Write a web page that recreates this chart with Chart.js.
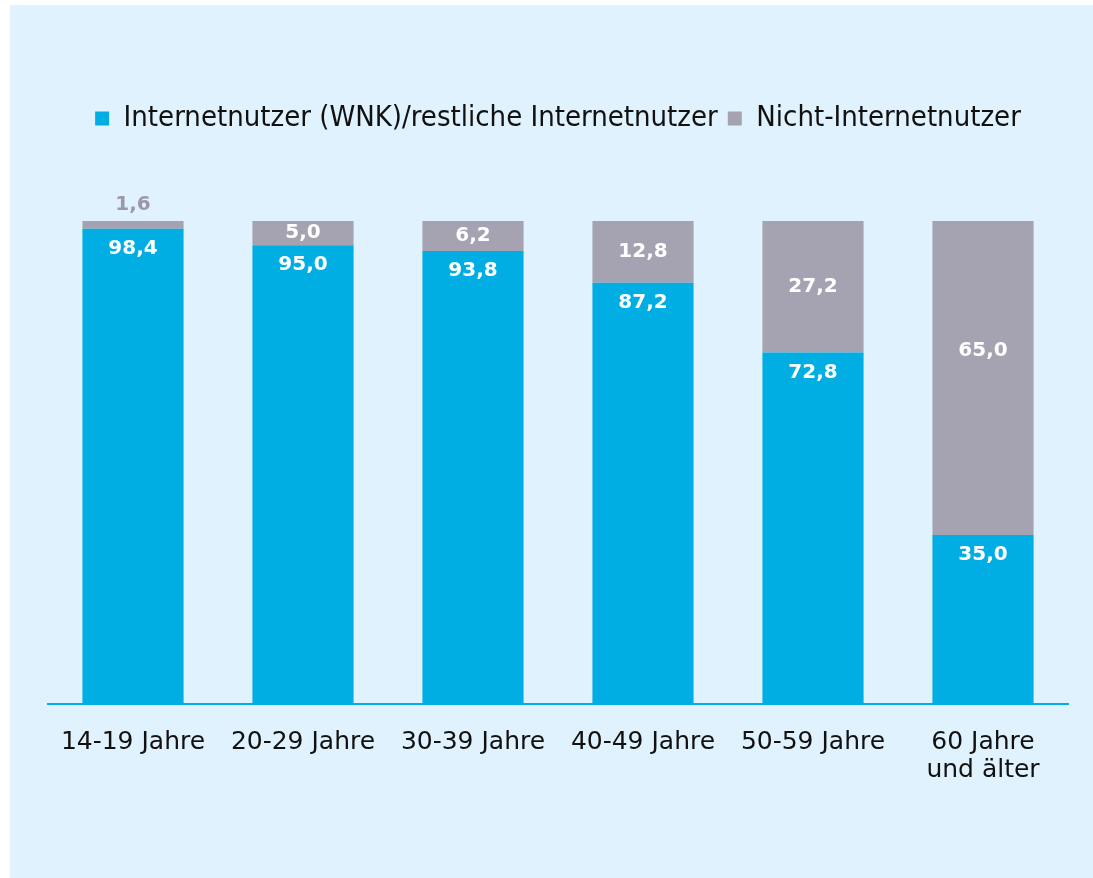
<!DOCTYPE html>
<html>
<head>
<meta charset="utf-8">
<script src="https://cdn.jsdelivr.net/npm/chart.js@4"></script>
<style>
  html, body { margin: 0; padding: 0; background: #ffffff; }
  #panel { position: absolute; left: 10px; top: 5px; width: 1083px; height: 873px; background: #dff2fd; }
</style>
</head>
<body>
<div id="panel"><canvas id="chart" width="1083" height="873"></canvas></div>
<script>
var categories = ['14-19 Jahre', '20-29 Jahre', '30-39 Jahre', '40-49 Jahre', '50-59 Jahre', ['60 Jahre', 'und älter']]
var internetnutzer = [98.4, 95.0, 93.8, 87.2, 72.8, 35.0]
var nichtNutzer = [1.6, 5.0, 6.2, 12.8, 27.2, 65.0]
var seriesNames = ['Internetnutzer (WNK)/restliche Internetnutzer', 'Nicht-Internetnutzer']

var blue = '#00aee4'
var grey = '#a5a3b2'

// extra room under the legend
var legendGap = {
    id: 'legendGap',
    beforeInit: function (chart) {
        var origFit = chart.legend.fit
        chart.legend.fit = function () {
            origFit.bind(chart.legend)()
            this.height += 78
        }
    }
}

function fmt(v) {
    return v.toFixed(1).replace('.', ',')
}

var valueLabels = {
    id: 'valueLabels',
    afterDatasetsDraw: function (chart) {
        var ctx = chart.ctx
        ctx.save()
        ctx.font = 'bold 20px "DejaVu Sans", Verdana, sans-serif'
        ctx.textAlign = 'center'
        ctx.textBaseline = 'middle'
        chart.data.datasets.forEach(function (ds, di) {
            var meta = chart.getDatasetMeta(di)
            meta.data.forEach(function (el, i) {
                var v = ds.data[i]
                var y
                if (di === 0) {
                    ctx.fillStyle = '#ffffff'
                    y = el.y + 20
                } else if (v < 3) {
                    ctx.fillStyle = '#9b99a8'
                    y = el.y - 16
                } else {
                    ctx.fillStyle = '#ffffff'
                    y = Math.min((el.y + el.base) / 2, el.y + 130)
                }
                ctx.fillText(fmt(v), el.x, y)
            })
        })
        ctx.restore()
    }
}

var ctx = document.getElementById('chart').getContext('2d')
var chart = new Chart(ctx, {
    type: 'bar',
    data: {
        labels: categories,
        datasets: [
            { label: seriesNames[0], data: internetnutzer, backgroundColor: blue, barPercentage: 0.595, categoryPercentage: 1 },
            { label: seriesNames[1], data: nichtNutzer, backgroundColor: grey, barPercentage: 0.595, categoryPercentage: 1 }
        ]
    },
    options: {
        responsive: false,
        animation: false,
        layout: { padding: { top: 89, left: 38, right: 25, bottom: 70 } },
        plugins: {
            legend: {
                position: 'top',
                labels: {
                    boxWidth: 14,
                    boxHeight: 14,
                    padding: 10,
                    color: '#111111',
                    font: { family: '"DejaVu Sans Condensed", "DejaVu Sans", sans-serif', size: 29 }
                }
            },
            tooltip: { enabled: false }
        },
        scales: {
            x: {
                stacked: true,
                grid: { display: false, drawTicks: false },
                border: { display: true, color: blue, width: 2 },
                ticks: {
                    color: '#111111',
                    padding: 24,
                    maxRotation: 0,
                    font: { family: '"DejaVu Sans", Verdana, sans-serif', size: 25, lineHeight: 1.12 }
                }
            },
            y: {
                stacked: true,
                display: false,
                min: 0,
                max: 100
            }
        }
    },
    plugins: [legendGap, valueLabels]
})
</script>
</body>
</html>
